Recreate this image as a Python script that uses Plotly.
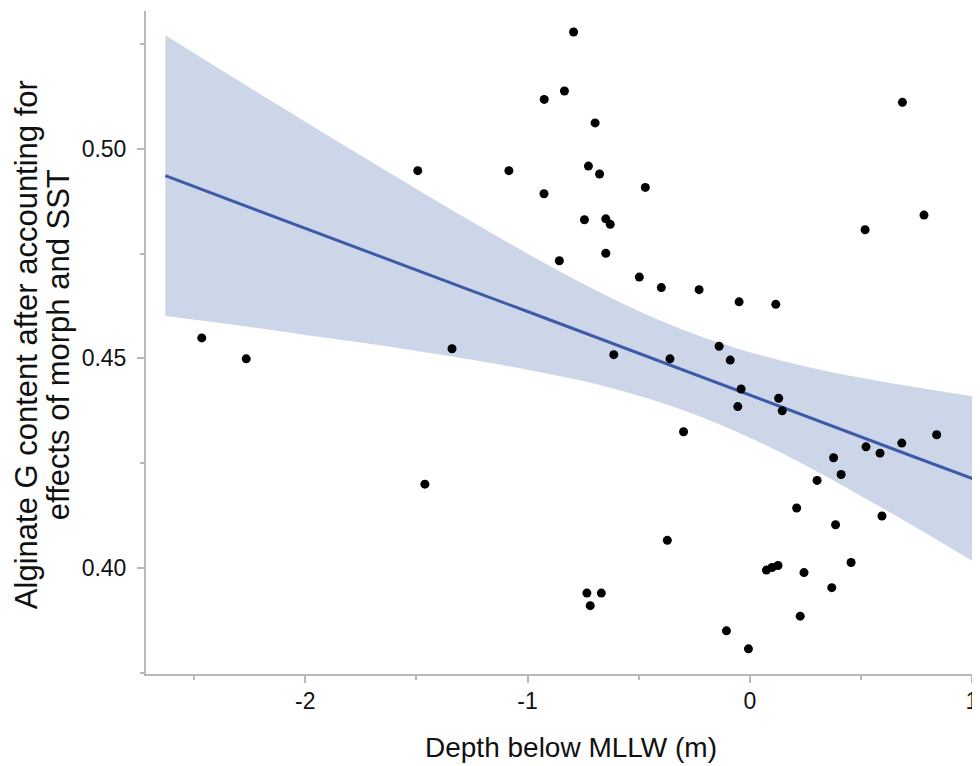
import plotly.graph_objects as go

# Scatter data (depth below MLLW in m, residual alginate G content)
depth = [-2.466, -2.266, -1.494, -1.462, -1.340, -1.084, -0.925, -0.926, -0.857, -0.834,
         -0.793, -0.744, -0.726, -0.696, -0.676, -0.648, -0.628, -0.648, -0.612, -0.497,
         -0.470, -0.398, -0.371, -0.359, -0.298, -0.228, -0.138, -0.105, -0.088, -0.054,
         -0.048, -0.039, -0.006, 0.075, 0.100, 0.117, 0.127, 0.130, 0.146, 0.211,
         0.227, 0.244, 0.303, 0.369, 0.377, 0.386, 0.411, 0.456, 0.519, 0.523,
         0.586, 0.595, 0.687, 0.684, 0.784, 0.841, -0.733, -0.668, -0.718]
g_content = [0.4549, 0.4499, 0.4948, 0.4200, 0.4523, 0.4948, 0.5118, 0.4893, 0.4733, 0.5138,
             0.5279, 0.4831, 0.4959, 0.5062, 0.4940, 0.4833, 0.4820, 0.4751, 0.4509, 0.4694,
             0.4908, 0.4669, 0.4066, 0.4499, 0.4325, 0.4664, 0.4529, 0.3850, 0.4496, 0.4385,
             0.4635, 0.4427, 0.3807, 0.3995, 0.4001, 0.4629, 0.4006, 0.4405, 0.4375, 0.4143,
             0.3885, 0.3989, 0.4209, 0.3953, 0.4263, 0.4103, 0.4223, 0.4013, 0.4807, 0.4289,
             0.4274, 0.4124, 0.5111, 0.4298, 0.4842, 0.4318, 0.3940, 0.3940, 0.3910]

# Fitted line and confidence band, read at these x positions
band_x = [-2.63, -2.25, -2.0, -1.75, -1.5, -1.25, -1.0, -0.75, -0.5, -0.25, 0.0, 0.25, 0.5, 0.75, 1.01]
fit_y = [0.4936, 0.4860, 0.4811, 0.4761, 0.4711, 0.4661, 0.4612, 0.4562, 0.4512, 0.4462,
         0.4413, 0.4363, 0.4313, 0.4263, 0.4212]
band_upper = [0.5271, 0.5146, 0.5065, 0.4984, 0.4904, 0.4826, 0.4750, 0.4678, 0.4613, 0.4558,
              0.4515, 0.4481, 0.4454, 0.4431, 0.4409]
band_lower = [0.4601, 0.4575, 0.4556, 0.4538, 0.4518, 0.4497, 0.4473, 0.4446, 0.4411, 0.4367,
              0.4311, 0.4245, 0.4172, 0.4096, 0.4014]

x_ticks = [-2, -1, 0, 1]
x_tick_labels = ["-2", "-1", "0", "1"]
y_ticks = [0.40, 0.45, 0.50]
y_tick_labels = ["0.40", "0.45", "0.50"]

x_title = "Depth below MLLW (m)"
y_title_lines = ["Alginate G content after accounting for", "effects of morph and SST"]

FONT = "Liberation Sans, Arial, Helvetica, sans-serif"
AXIS_GREY = "#b8b8b8"

fig = go.Figure()
fig.add_trace(go.Scatter(x=band_x, y=band_upper, mode="lines", line=dict(width=0, shape="spline"),
                         hoverinfo="skip", showlegend=False))
fig.add_trace(go.Scatter(x=band_x, y=band_lower, mode="lines", line=dict(width=0, shape="spline"),
                         fill="tonexty", fillcolor="#cdd6e8", hoverinfo="skip", showlegend=False))
fig.add_trace(go.Scatter(x=band_x, y=fit_y, mode="lines", line=dict(color="#3d5ba8", width=3),
                         showlegend=False))
fig.add_trace(go.Scatter(x=depth, y=g_content, mode="markers",
                         marker=dict(color="black", size=9), showlegend=False))

axis_common = dict(showgrid=False, zeroline=False, showline=True, linecolor=AXIS_GREY, linewidth=2,
                   ticks="outside", ticklen=7, tickwidth=1.5, tickcolor=AXIS_GREY,
                   ticklabeloverflow="allow",
                   tickfont=dict(family=FONT, size=23, color="#111"))

fig.update_xaxes(range=[-2.717, 1.018], tickvals=x_ticks, ticktext=x_tick_labels,
                 ticklabelstandoff=-2,
                 minor=dict(dtick=0.5, tick0=-2.5, ticks="outside", ticklen=4, tickcolor=AXIS_GREY,
                            tickwidth=1.5),
                 **axis_common)
fig.update_yaxes(range=[0.3747, 0.5329], tickvals=y_ticks, ticktext=y_tick_labels,
                 ticklabelstandoff=6,
                 minor=dict(dtick=0.025, tick0=0.375, ticks="outside", ticklen=4, tickcolor=AXIS_GREY,
                            tickwidth=1.5),
                 **axis_common)

# page body has an 8px margin, so the figure is 8px smaller on each side
annotations = [
    dict(text=x_title, xref="paper", yref="paper", x=0.512, y=0, yshift=-73, showarrow=False,
         xanchor="center", yanchor="middle", font=dict(family=FONT, size=28, color="#111")),
    dict(text=y_title_lines[0], xref="paper", yref="paper", x=0, xshift=-120, y=0.496,
         showarrow=False, textangle=-90, xanchor="center", yanchor="middle",
         font=dict(family=FONT, size=31, color="#111")),
    dict(text=y_title_lines[1], xref="paper", yref="paper", x=0, xshift=-88, y=0.496,
         showarrow=False, textangle=-90, xanchor="center", yanchor="middle",
         font=dict(family=FONT, size=31, color="#111")),
]

fig.update_layout(width=972, height=758, margin=dict(l=138, r=2, t=3, b=92),
                  plot_bgcolor="white", paper_bgcolor="white", annotations=annotations,
                  showlegend=False)

fig.write_html("out.html")
